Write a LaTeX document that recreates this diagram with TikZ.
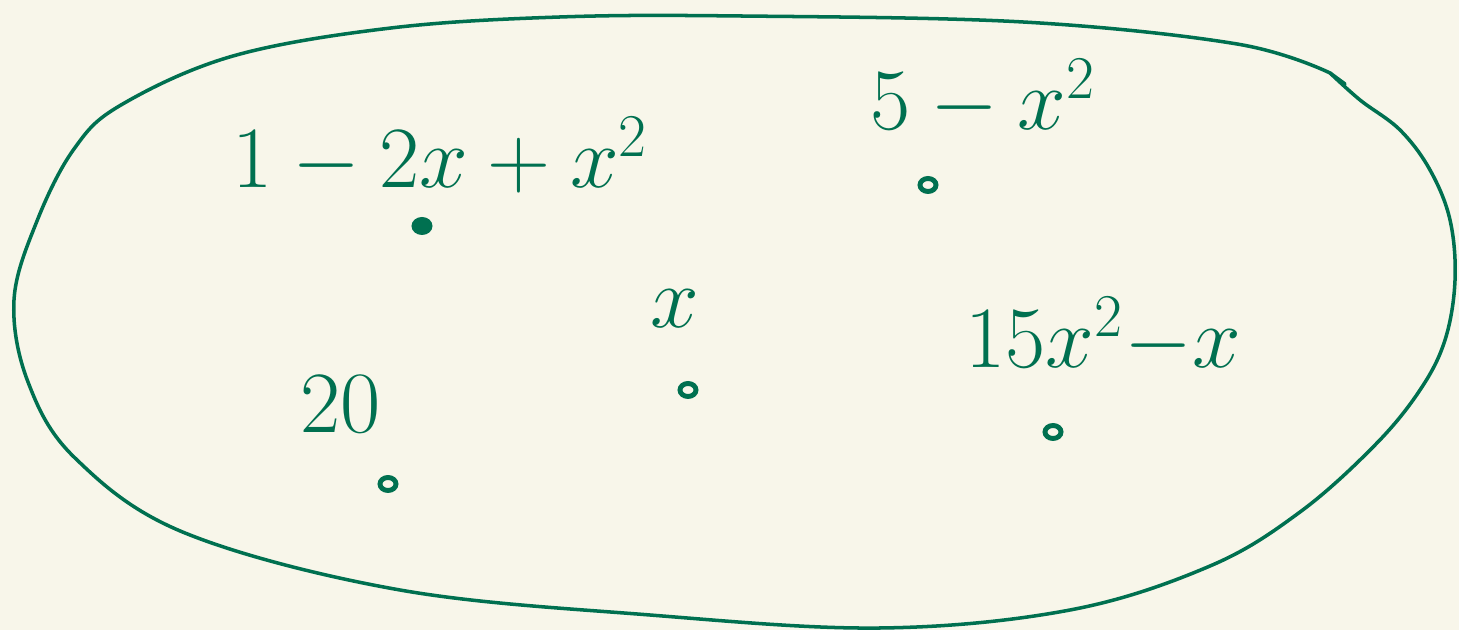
\documentclass[tikz,border=0pt]{standalone}
\usepackage{amsmath}
\usepackage{tikz}
\usetikzlibrary{positioning,calc,shapes.geometric}
\definecolor{fundo}{RGB}{248,246,234}
\definecolor{verde}{RGB}{0,112,80}

\begin{document}
\begin{tikzpicture}[
    contorno/.style={draw=verde,line width=1pt,line cap=round,line join=round},
    ponto/.style={draw=verde,line width=1.4pt,ellipse,inner sep=0pt,minimum width=0.16cm,minimum height=0.13cm},
    rotulo/.style={text=verde,anchor=base west,inner sep=0pt,font=\fontsize{26}{30}\selectfont}]
  \fill[fundo] (0,0) rectangle (14.59,6.30);
  \useasboundingbox (0,0) rectangle (14.59,6.30);
  % conjunto
  \coordinate (bico) at (13.30,5.57);
  \draw[contorno] plot[smooth,tension=0.6] coordinates {
      (13.30,5.57) (13.60,5.30) (14.00,5.00) (14.30,4.60) (14.50,4.10) (14.55,3.50)
      (14.45,2.90) (14.20,2.40) (13.75,1.85) (13.00,1.18) (12.10,0.64) (10.70,0.20)
      (8.80,0.02) (6.50,0.15) (4.00,0.40) (1.85,0.97) (0.75,1.72) (0.28,2.48)
      (0.14,3.30) (0.37,4.09) (0.74,4.81) (1.21,5.25) (2.33,5.74) (3.91,6.02)
      (5.60,6.13) (7.40,6.14) (10.23,6.08) (12.37,5.86) (13.30,5.57)};
  \coordinate (ponta) at (13.45,5.46);
  \draw[contorno] (bico) -- (ponta);
  % elementos
  \node[ponto,fill=verde] (p1) at (4.22,4.04) {};
  \node[ponto] (p2) at (9.28,4.45) {};
  \node[ponto] (p3) at (6.88,2.40) {};
  \node[ponto] (p4) at (10.53,1.98) {};
  \node[ponto] (p5) at (3.88,1.46) {};
  \node[rotulo] (r1) at (2.32,4.42) {$1-2x+x^2$};
  \node[rotulo] (r2) at (8.70,5.00) {$5-x^2$};
  \node[rotulo] (r3) at (6.50,3.02) {$x$};
  \node[rotulo] (r4) at (9.65,2.62) {$15x^2{-}x$};
  \node[rotulo] (r5) at (3.00,1.97) {$20$};
\end{tikzpicture}
\end{document}
